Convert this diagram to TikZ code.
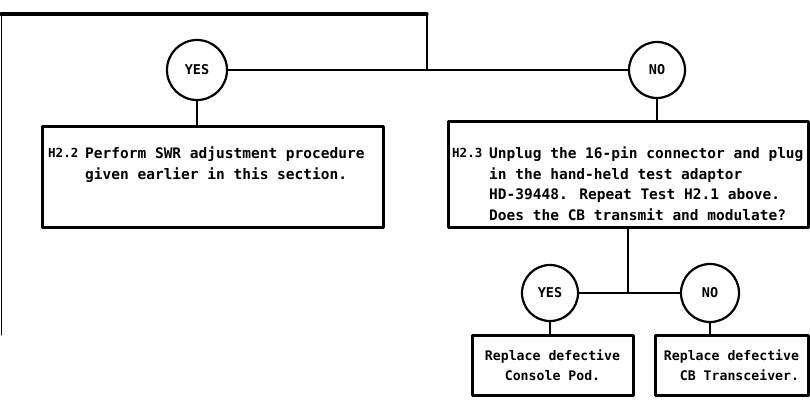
\documentclass[tikz,border=0pt]{standalone}
\usepackage{fontspec}
\newfontfamily\chartfont{DejaVu Sans Mono}
\usetikzlibrary{positioning}

\begin{document}
\begin{tikzpicture}[x=1pt, y=-1pt, line cap=round, line join=round,
    answer/.style={draw, circle, line width=2.2pt, inner sep=0pt,
        font=\chartfont\bfseries\fontsize{13.5}{15}\selectfont},
    stepbox/.style={draw, rectangle, line width=3pt, inner sep=0pt},
    steptext/.style={inner sep=0pt, align=left,
        font=\chartfont\bfseries\fontsize{14.5}{20.5}\selectfont},
    stepno/.style={inner sep=0pt,
        font=\chartfont\bfseries\fontsize{12.5}{20.5}\selectfont},
    link/.style={line width=2.4pt}]

\useasboundingbox (0,0) rectangle (810,409);

% answers to H2.1
\node[answer, minimum size=60pt] (yesA) at (197,70) {YES};
\node[answer, minimum size=56pt] (noA) at (657,70) {NO};
\coordinate (joinA) at (427,70);
\coordinate (topA) at (427,14);
\coordinate (topL) at (1,14);
\coordinate (endL) at (1,335);

\node[stepbox, minimum width=341pt, minimum height=101pt] (h22) at (212.5,176.5) {};
\node[stepbox, minimum width=360pt, minimum height=106pt] (h23) at (628,174) {};

\node[stepno, anchor=north west] (h22no) at (48,148) {H2.2};
\node[steptext, anchor=north west] (h22tx) at (85,147)
    {Perform SWR adjustment procedure\\given earlier in this section.};
\node[stepno, anchor=north west] (h23no) at (452,148) {H2.3};
\node[steptext, anchor=north west] (h23tx) at (489,147)
    {Unplug the 16-pin connector and plug\\in the hand-held test adaptor\\
     HD-39448.  Repeat Test H2.1 above.\\Does the CB transmit and modulate?};

% answers to H2.3
\coordinate (joinB) at (628,293);
\node[answer, minimum size=56pt] (yesB) at (550,293) {YES};
\node[answer, minimum size=58pt] (noB) at (710,293) {NO};

\node[stepbox, minimum width=161pt, minimum height=60pt, align=center,
    font=\chartfont\bfseries\fontsize{13.2}{20}\selectfont] (pod) at (552.5,365)
    {Replace defective\\Console Pod.};
\node[stepbox, minimum width=153pt, minimum height=60pt, align=right,
    font=\chartfont\bfseries\fontsize{13.2}{20}\selectfont] (xcvr) at (731.5,365)
    {Replace defective\\CB Transceiver.};

\draw[line width=3.2pt] (topL) -- (topA);
\draw[line width=1pt] (topL) -- (endL);
\draw[link] (topA) -- (joinA);
\draw[link] (yesA) -- (joinA) -- (noA);
\draw[link] (yesA) -- (yesA |- h22.north);
\draw[link] (noA) -- (noA |- h23.north);

\draw[link] (h23.south) -- (joinB);
\draw[link] (yesB) -- (joinB) -- (noB);
\draw[link] (yesB) -- (yesB |- pod.north);
\draw[link] (noB) -- (noB |- xcvr.north);

\end{tikzpicture}
\end{document}
